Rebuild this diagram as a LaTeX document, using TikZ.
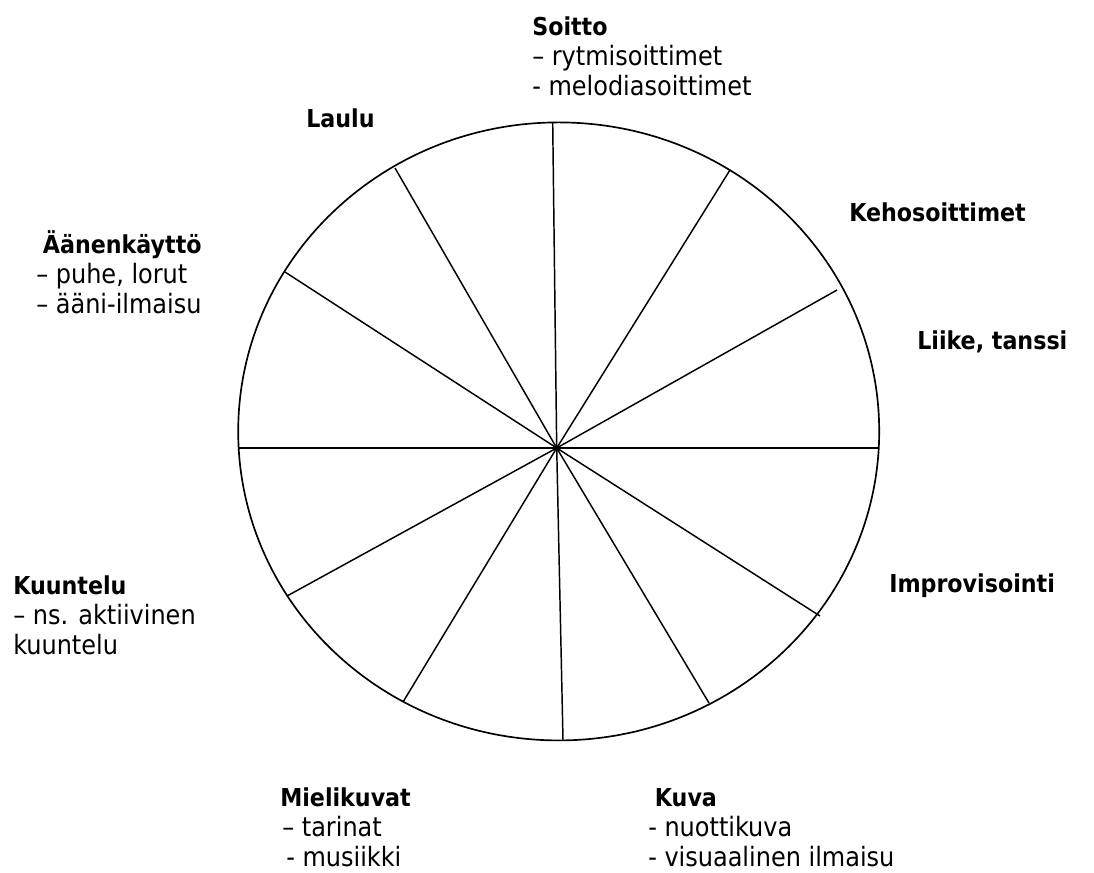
\documentclass[tikz,border=0pt]{standalone}
\usepackage{fontspec}
\setmainfont{DejaVu Sans Condensed}
\usetikzlibrary{positioning}
\newcommand{\heading}[1]{{\fontsize{18.5}{22.5}\selectfont\bfseries #1}}

\begin{document}
\begin{tikzpicture}[
    x=0.75pt, y=-0.75pt,
    area/.style={anchor=base west, align=left, inner sep=0pt, font=\fontsize{20}{22.5}\selectfont},
    spoke/.style={line width=1.1pt},
    rim/.style={line width=1.25pt}
]
    \useasboundingbox (0,0) rectangle (1094,872);

    % wheel
    \draw[rim] (558.7,431.4) ellipse [x radius=320.5, y radius=309];
    \coordinate (hub) at (556.7,448);
    \foreach \px/\py [count=\i] in {552.7/122.7, 730/170, 837/290, 879/448, 820/616, 709/703,
                                    563/740, 403/702, 287/596, 238/448, 285/272, 395/168}
        \coordinate (tip\i) at (\px,\py);
    \foreach \i in {1,...,12}
        \draw[spoke] (hub) -- (tip\i);

    % labels round the wheel (base = last line)
    \node[area] (soitto) at (532,95) {\heading{Soitto}\\– rytmisoittimet\\- melodiasoittimet};
    \node[area] (laulu) at (306,127) {\heading{Laulu}};
    \node[area] (keho) at (849,221) {\heading{Kehosoittimet}};
    \node[area] (liike) at (917,349) {\heading{Liike, tanssi}};
    \node[area] (aanen) at (36,313) {\hspace*{5pt}\heading{Äänenkäyttö}\\– puhe, lorut\\– ääni-ilmaisu};
    \node[area] (kuuntelu) at (13,654) {\heading{Kuuntelu}\\– ns. aktiivinen\\kuuntelu};
    \node[area] (impro) at (889,592) {\heading{Improvisointi}};
    \node[area] (mieli) at (280,866) {\heading{Mielikuvat}\\\hspace*{1.5pt}– tarinat\\\hspace*{4.5pt}- musiikki};
    \node[area] (kuva) at (648,866) {\hspace*{5pt}\heading{Kuva}\\- nuottikuva\\- visuaalinen ilmaisu};
\end{tikzpicture}
\end{document}
